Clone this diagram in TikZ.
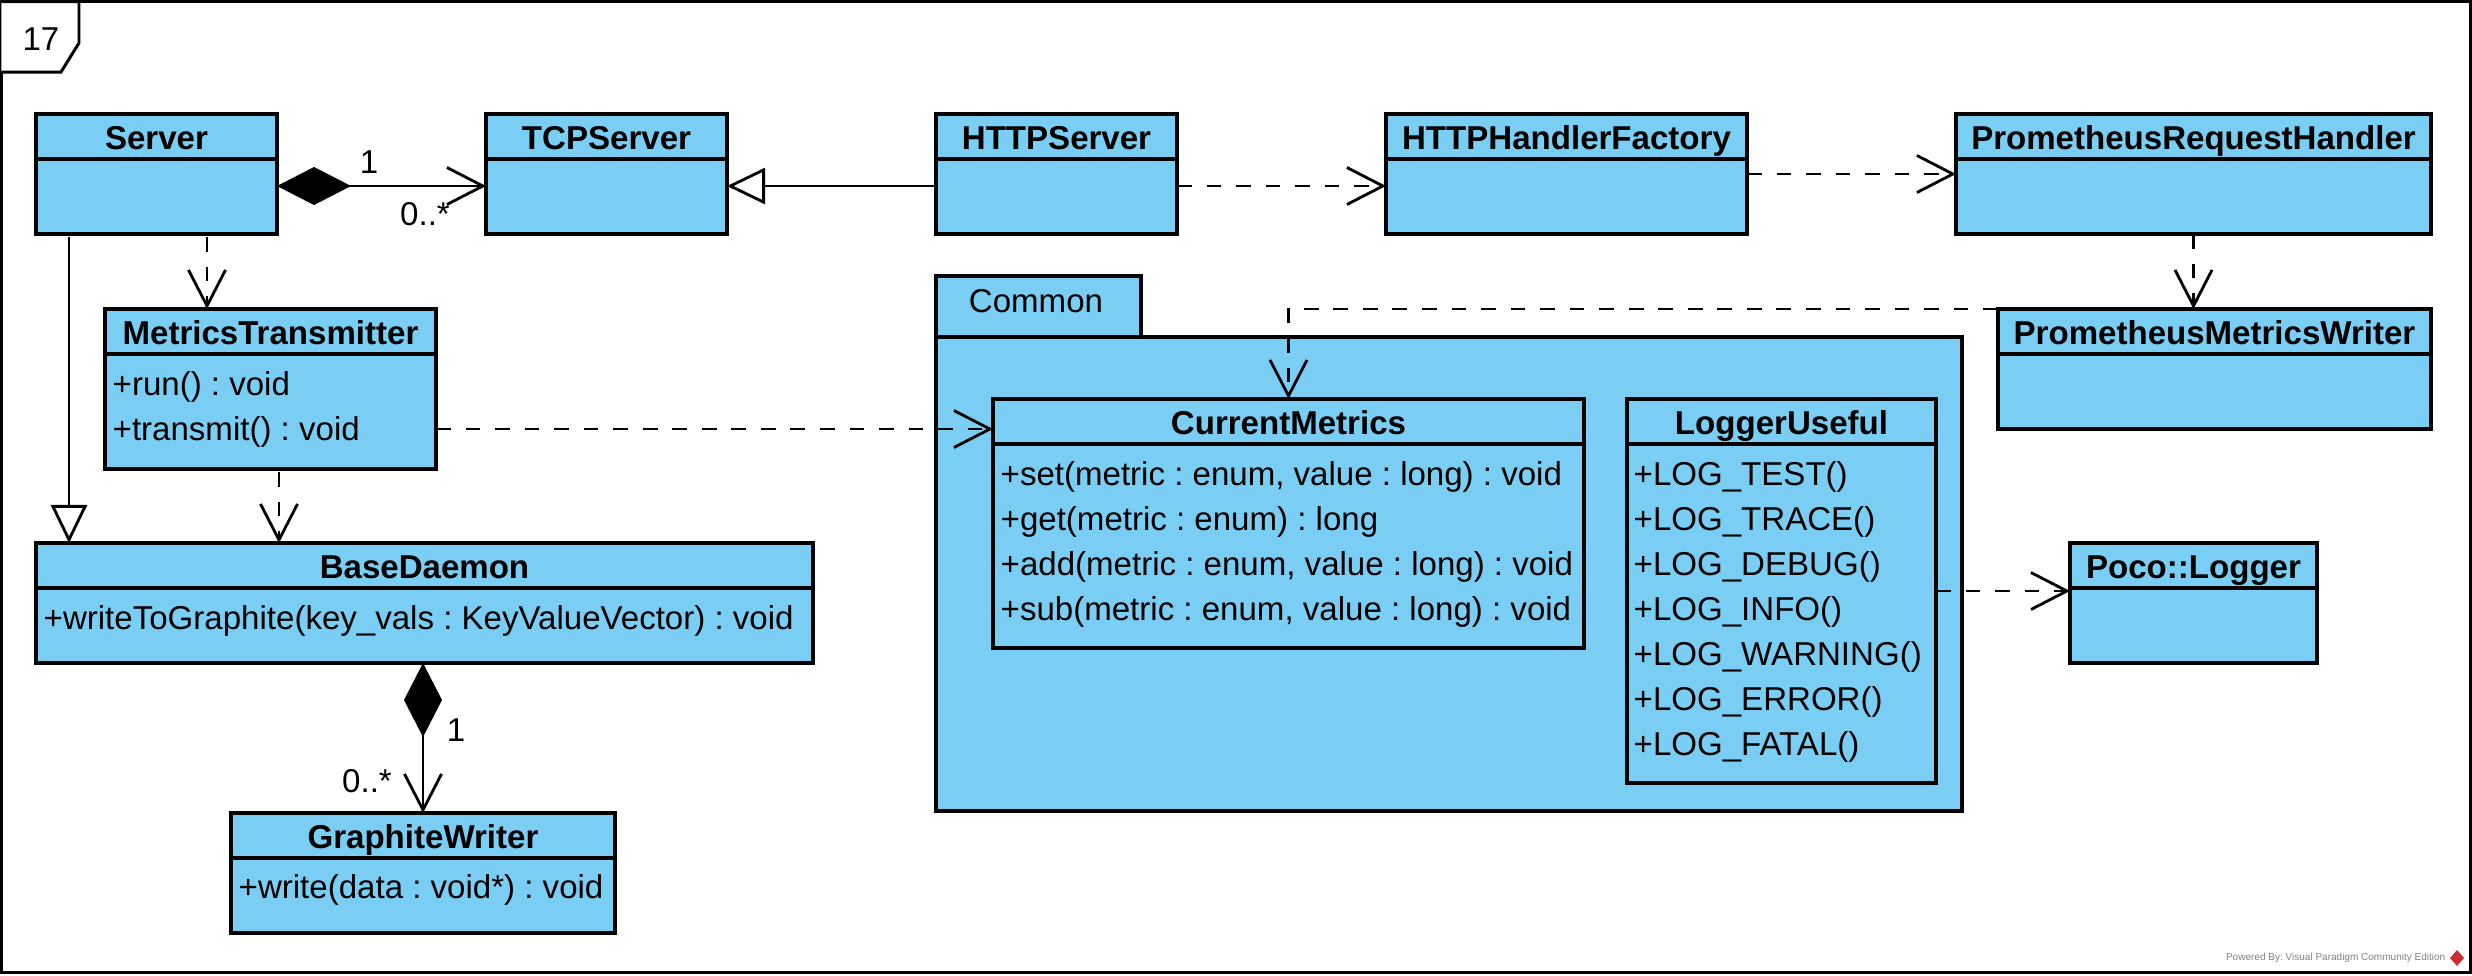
\documentclass[tikz,border=0pt]{standalone}
\usepackage{fontspec}
\setmainfont{Liberation Sans}
\usetikzlibrary{arrows.meta,calc}
\frenchspacing

\definecolor{classblue}{RGB}{122,206,244}
\definecolor{vpred}{RGB}{205,45,45}

\begin{document}
\begin{tikzpicture}[x=0.01cm,y=-0.01cm,line join=miter,
  font=\fontsize{9.4pt}{11pt}\selectfont,
  classbox/.style={draw, fill=classblue, line width=0.9pt, anchor=north west, inner sep=0pt, outer sep=0pt},
  classtitle/.style={font=\fontsize{9.4pt}{11pt}\selectfont\bfseries, anchor=base, inner sep=0pt},
  memberline/.style={anchor=base west, inner sep=0pt},
  multlabel/.style={inner sep=0pt},
  depline/.style={line width=0.8pt, dash pattern=on 4.2pt off 4.2pt, -{Straight Barb[length=3.6mm,width=3.7mm]}},
  genline/.style={line width=0.8pt, -{Triangle[open,fill=white,length=3.8mm,width=3.6mm]}},
  compline/.style={line width=0.8pt, {Diamond[length=7.4mm,width=3.8mm]}-{Straight Barb[length=3.6mm,width=3.7mm]}}]
  \useasboundingbox (0,0) rectangle (2472,975);

  % Diagram frame and its number tag
  \draw[line width=0.85pt] (1.5,1.5) rectangle (2470.5,972.5);
  \draw[line width=0.85pt, fill=white] (1.5,1.5) -- (79,1.5) -- (79,43) -- (61,72) -- (1.5,72);
  \node[anchor=base] (tagnum) at (41,50) {17};

  % Package Common (tab, then body)
  \draw[line width=0.9pt, fill=classblue] (936,276) rectangle (1141,337);
  \draw[line width=0.9pt, fill=classblue] (936,337) rectangle (1962,811);
  \node[anchor=base] (common) at (1036,312) {Common};

  % Class boxes: name/x/y/width/height/title
  \foreach \n/\x/\y/\w/\h/\t in {
      server/36/114/241/120/Server,
      tcp/486/114/241/120/TCPServer,
      http/936/114/241/120/HTTPServer,
      factory/1386/114/361/120/HTTPHandlerFactory,
      handler/1956/114/475/120/PrometheusRequestHandler,
      writer/1998/309/433/120/PrometheusMetricsWriter,
      transmitter/105/309/331/160/MetricsTransmitter,
      daemon/36/543/777/120/BaseDaemon,
      graphite/231/813/384/120/GraphiteWriter,
      metrics/993/399/591/249/CurrentMetrics,
      logger/1627/399/309/384/LoggerUseful,
      poco/2070/543/247/120/Poco::Logger}{
    \node[classbox, minimum width=\w*0.01cm, minimum height=\h*0.01cm] (\n) at (\x,\y) {};
    \draw[line width=0.9pt] ($(\n.north west)+(0,45)$) -- ($(\n.north east)+(0,45)$);
    \node[classtitle] (\n-title) at ($(\n.north)+(0,35)$) {\t};
  }

  % Operations
  \foreach \m [count=\i from 0] in {{+run() : void},{+transmit() : void}}
    \node[memberline] (transmitter-m\i) at ($(transmitter.north west)+(7,86+45.5*\i)$) {\m};
  \node[memberline] (daemon-m0) at ($(daemon.north west)+(7,86)$) {+writeToGraphite(key\_vals : KeyValueVector) : void};
  \node[memberline] (graphite-m0) at ($(graphite.north west)+(7,85)$) {+write(data : void*) : void};
  \foreach \m [count=\i from 0] in {{+set(metric : enum, value : long) : void},
      {+get(metric : enum) : long},{+add(metric : enum, value : long) : void},
      {+sub(metric : enum, value : long) : void}}
    \node[memberline] (metrics-m\i) at ($(metrics.north west)+(7,86+45*\i)$) {\m};
  \foreach \m [count=\i from 0] in {TEST,TRACE,DEBUG,INFO,WARNING,ERROR,FATAL}
    \node[memberline] (logger-m\i) at ($(logger.north west)+(6,86+45*\i)$) {+LOG\_\m()};

  % Top row relations
  \draw[compline] ($(server.north east)+(0,72)$) -- ($(tcp.north west)+(0,72)$);
  \node[multlabel] (server-one) at (369,162) {1};
  \node[multlabel] (tcp-many) at (425,214) {0..*};
  \draw[genline] ($(http.north west)+(0,72)$) -- ($(tcp.north east)+(0,72)$);
  \draw[depline] ($(http.north east)+(0,72)$) -- ($(factory.north west)+(0,72)$);
  \draw[depline] ($(factory.north east)+(0,60)$) -- ($(handler.north west)+(0,60)$);
  \draw[depline] (handler.south) -- (handler.south |- writer.north);
  \draw[depline] (writer.north west) -| (metrics.north);

  % Left column relations
  \draw[depline] ($(server.south west)+(171,3)$) -- ($(transmitter.north west)+(102,0)$);
  \draw[genline] ($(server.south west)+(33,3)$) -- ($(daemon.north west)+(33,0)$);
  \draw[depline] ($(transmitter.south west)+(174,3)$) -- ($(daemon.north west)+(243,0)$);
  \draw[depline] ($(transmitter.north east)+(0,120)$) -- ($(metrics.north west)+(0,30)$);
  \draw[compline] ($(daemon.south west)+(387,0)$) -- (graphite.north);
  \node[multlabel] (daemon-one) at (456,730) {1};
  \node[multlabel] (graphite-many) at (367,781) {0..*};

  % Logger dependency
  \draw[depline] ($(logger.north east)+(0,192)$) -- ($(poco.north west)+(0,48)$);

  % Tool note
  \node[anchor=east, inner sep=0pt, text=gray, font=\fontsize{2.85pt}{3.5pt}\selectfont] (vpnote) at (2446,958) {Powered By: Visual Paradigm Community Edition};
  \fill[vpred] (2457,950) -- (2464,958) -- (2457,966) -- (2450,958) -- cycle;
\end{tikzpicture}
\end{document}
